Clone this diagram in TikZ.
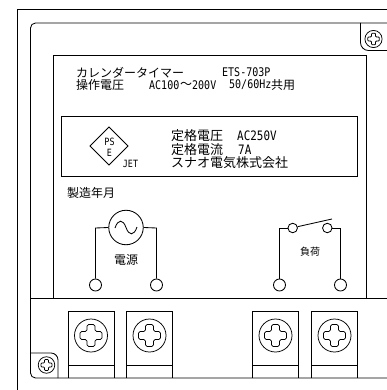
\documentclass[tikz,border=0pt]{standalone}
\usepackage{fontspec}
\setmainfont{Liberation Sans}
\newfontfamily\cjk{Noto Sans CJK JP}
\newfontfamily\nar[FakeStretch=0.84]{DejaVu Sans Mono}
\tikzset{
 x=1pt,y=-1pt,
 line/.style={draw=black,line width=0.85pt},
 term/.style={circle,draw=black,line width=0.85pt,fill=white,minimum size=12pt,inner sep=0pt},
 small/.style={circle,draw=black,line width=0.85pt,fill=white,minimum size=9.5pt,inner sep=0pt},
 label/.style={inner sep=0pt,anchor=west,font=\cjk\fontsize{12}{12}\selectfont,text=black},
 lat/.style={inner sep=0pt,anchor=west,font=\nar\fontsize{11.9}{12}\selectfont,text=black},
 big/.style={inner sep=0pt,anchor=west,font=\cjk\fontsize{13}{13}\selectfont,text=black},
 latbig/.style={inner sep=0pt,anchor=west,font=\nar\fontsize{13}{13}\selectfont,text=black},
 tiny/.style={inner sep=0pt,font=\nar\fontsize{10}{10}\selectfont,text=black},
 smalllabel/.style={inner sep=0pt,font=\cjk\fontsize{10}{10}\selectfont,text=black}
}
\newcommand{\plusshape}[3]{% x y scale
 \draw[line,line width=0.75pt] (#1,#2) circle[radius=16.5*#3];
 \draw[line,line width=0.75pt,rounded corners=1.6*#3] 
 (#1-4*#3,#2-11*#3) -- (#1+4*#3,#2-11*#3) -- (#1+4*#3,#2-4*#3) -- (#1+11*#3,#2-4*#3) -- (#1+11*#3,#2+4*#3) -- (#1+4*#3,#2+4*#3) -- (#1+4*#3,#2+11*#3) -- (#1-4*#3,#2+11*#3) -- (#1-4*#3,#2+4*#3) -- (#1-11*#3,#2+4*#3) -- (#1-11*#3,#2-4*#3) -- (#1-4*#3,#2-4*#3) -- cycle;
}
\newcommand{\tblock}[1]{% left x
 \draw[line] (#1,378) -- (#1,311.5) -- (#1+46,311.5) -- (#1+46,378);
 \draw[line] (#1,365) -- (#1+46,365);
 \plusshape{#1+23}{335.5}{1}
}
\begin{document}
\begin{tikzpicture}
\useasboundingbox (0,0) rectangle (387,390);
\fill[white] (0,0) rectangle (387,390);
\draw[line] (387,9) -- (17,9) -- (17,390);
\draw[line,rounded corners=5pt] (387,23) -- (30.5,23) -- (30.5,378) -- (387,378);
\draw[line,rounded corners=8pt] (360.5,23) -- (360.5,50.5) -- (387,50.5);
\plusshape{373.5}{39}{0.52}
\draw[line,rounded corners=7pt] (30.5,353) -- (58,353) -- (58,378);
\plusshape{46.5}{365}{0.5}
\draw[line] (53,298) -- (53,55) -- (366,55) -- (366,298);
\draw[line] (30.5,298) -- (387,298);
\draw[line] (61.5,116) rectangle (357.5,176);
\node[label] (t1) at (76,72.5) {カレンダータイマー};
\node[lat] (t1b) at (222,72.5) {ETS-703P};
\node[label] (t2) at (76,85) {操作電圧};
\node[lat] (t2b) at (149,85) {AC100};
\node[label] (t2w) at (180,85) {～};
\node[lat] (t2x) at (192,85) {200V};
\node[lat] (t2c) at (229,85) {50/60Hz};
\node[label] (t2d) at (271,85) {共用};
\node[big] (t3) at (171,135.5) {定格電圧};
\node[latbig] (t3b) at (237,135.5) {AC250V};
\node[big] (t4) at (171,150) {定格電流};
\node[latbig] (t4b) at (238,150) {7A};
\node[big] (t5) at (171,163) {スナオ電気株式会社};
\node[label] (t6) at (67,193) {製造年月};
\draw[line] (109,127) -- (128,146) -- (109,165) -- (90,146) -- cycle;
\node[tiny] (ps) at (109.5,142) {PS};
\node[tiny] (e) at (109.5,152.5) {E};
\node[tiny] (jet) at (130.5,163.5) {JET};
\node[term] (a) at (95.5,285) {};
\node[term] (b) at (156.5,285) {};
\node[circle,line,minimum size=34.5pt,inner sep=0pt] (src) at (126,227.5) {};
\draw[line] (a) -- (95.5,228) -- (src.west);
\draw[line] (b) -- (156.5,228) -- (src.east);
\draw[line] (115,228) .. controls (118,219) and (123,219) .. (126,227.5) .. controls (129,236) and (134,236) .. (137,227);
\node[label,anchor=center] (dg) at (126,259.5) {電源};
\node[term] (c) at (279.5,285) {};
\node[term] (d) at (340.5,285) {};
\node[small] (s1) at (292.7,228) {};
\node[small] (s2) at (327.3,228) {};
\draw[line] (c) -- (279.5,228) -- (s1);
\draw[line] (d) -- (340.5,228) -- (s2);
\coordinate (tip) at (332,219);
\draw[line] (s1.15) -- (tip);
\node[smalllabel] (fk) at (310,251.5) {負荷};
\tblock{68}
\tblock{126.5}
\tblock{252.5}
\tblock{311.5}
\end{tikzpicture}
\end{document}
